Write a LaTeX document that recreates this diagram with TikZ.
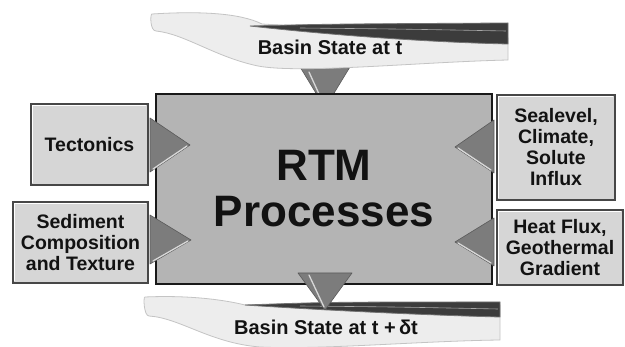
\documentclass[tikz,border=0pt]{standalone}
\usepackage{fontspec}
\setmainfont{Liberation Sans}
\usetikzlibrary{calc}
\definecolor{mainfill}{HTML}{B4B4B4}
\definecolor{sidefill}{HTML}{D6D6D6}
\definecolor{trifill}{HTML}{7C7C7C}
\definecolor{tridark}{HTML}{5A5A5A}
\definecolor{trihi}{HTML}{D8D8D8}
\definecolor{bannerlight}{HTML}{EDEDED}
\definecolor{bannerline}{HTML}{C4C4C4}
\definecolor{bannerdark}{HTML}{3C3C3C}
\definecolor{inktext}{HTML}{121212}
\begin{document}
\begin{tikzpicture}[x=1pt,y=-1pt,
  sidebox/.style={draw=black!72, line width=1.5pt, fill=sidefill, inner sep=0pt,
    align=center, text=inktext, font=\fontsize{19.5}{21}\selectfont\bfseries},
  mainbox/.style={draw=black!90, line width=1.8pt, fill=mainfill, inner sep=0pt,
    align=center, text=inktext, font=\fontsize{44}{46}\selectfont\bfseries},
  tri/.style={fill=trifill, draw=tridark, line width=0.6pt, line join=round},
  trihl/.style={draw=trihi, line width=1.3pt, line cap=round},
  boxhl/.style={draw=white, line width=1pt},
  bannerL/.style={fill=bannerlight, draw=bannerline, line width=0.8pt},
  bannerD/.style={fill=bannerdark, draw=black!55, line width=0.8pt},
  bannertext/.style={text=inktext, font=\fontsize{20}{22}\selectfont\bfseries, anchor=base, inner sep=0pt}]
\useasboundingbox (0,0) rectangle (625,347);
\fill[white] (0,0) rectangle (625,347);

% top triangle (partly under the banner)
\coordinate (tA) at (297,62);
\coordinate (tB) at (353,62);
\coordinate (tC) at (325,108);
\filldraw[tri] (tA) -- (tB) -- (tC) -- cycle;
\draw[trihl] (309,72) -- (324,105);

% top banner
\filldraw[bannerL] (152,14) .. controls (200,11) and (240,13) .. (262,24)
  -- (508,38) -- (508,60) .. controls (420,62) and (300,74) .. (258,66)
  .. controls (215,57) and (185,34) .. (156,31) .. controls (150,31) and (150,14) .. (152,14) -- cycle;
\filldraw[bannerD] (250,26) .. controls (330,24) .. (508,23) -- (508,44)
  .. controls (420,42) and (320,34) .. (250,26) -- cycle;
\draw[gray!70, line width=0.6pt] (300,28) .. controls (400,29) .. (506,31);
\node[bannertext] (stateT) at (330,55) {Basin State at t};

% main box
\node[mainbox, minimum width=336pt, minimum height=190pt] (rtm) at (324,189) {RTM\\Processes};

% side boxes
\node[sidebox, minimum width=117pt, minimum height=81pt] (tect) at (89.5,144.5) {Tectonics};
\node[sidebox, minimum width=135pt, minimum height=81pt] (sed) at (80.5,242.5) {Sediment\\Composition\\and Texture};
\node[sidebox, minimum width=118pt, minimum height=105pt] (sea) at (556,147.5) {Sealevel,\\Climate,\\Solute\\Influx};
\node[sidebox, minimum width=126pt, minimum height=75pt] (heat) at (560,247.5) {Heat Flux,\\Geothermal\\Gradient};
\foreach \b in {tect,sed,sea,heat}{
  \draw[boxhl] ($(\b.south west)+(2.5,-2.5)$) -- ($(\b.north west)+(2.5,2.5)$) -- ($(\b.north east)+(-2.5,2.5)$);
}

% left triangles
\filldraw[tri] (150,118) -- (190,145) -- (150,172) -- cycle;
\draw[trihl] (153,169) -- (187,146);
\filldraw[tri] (150,215) -- (191,240) -- (150,264) -- cycle;
\draw[trihl] (153,261) -- (188,241);
% right triangles
\filldraw[tri] (494,120) -- (455,147) -- (494,173) -- cycle;
\draw[trihl] (491,170) -- (458,148);
\filldraw[tri] (494,218) -- (455,242) -- (494,266) -- cycle;
\draw[trihl] (491,263) -- (458,243);

% bottom banner
\filldraw[bannerL] (145,297) .. controls (190,295) and (225,300) .. (245,305)
  -- (500,305) -- (500,340) .. controls (420,341) and (320,350) .. (260,347)
  .. controls (210,343) and (180,318) .. (149,316) .. controls (144,316) and (143,297) .. (145,297) -- cycle;
\filldraw[bannerD] (245,305) .. controls (330,302) .. (500,302) -- (500,317)
  .. controls (420,315) and (320,310) .. (245,305) -- cycle;
\draw[gray!70, line width=0.6pt] (300,306) .. controls (400,307) .. (498,309);
\node[bannertext] (stateTdt) at (326,335) {Basin State at t +\,δt};

% bottom triangle
\filldraw[tri] (298,273) -- (352,273) -- (325,310) -- cycle;
\draw[trihl] (309,275) -- (324,307);
\end{tikzpicture}
\end{document}
